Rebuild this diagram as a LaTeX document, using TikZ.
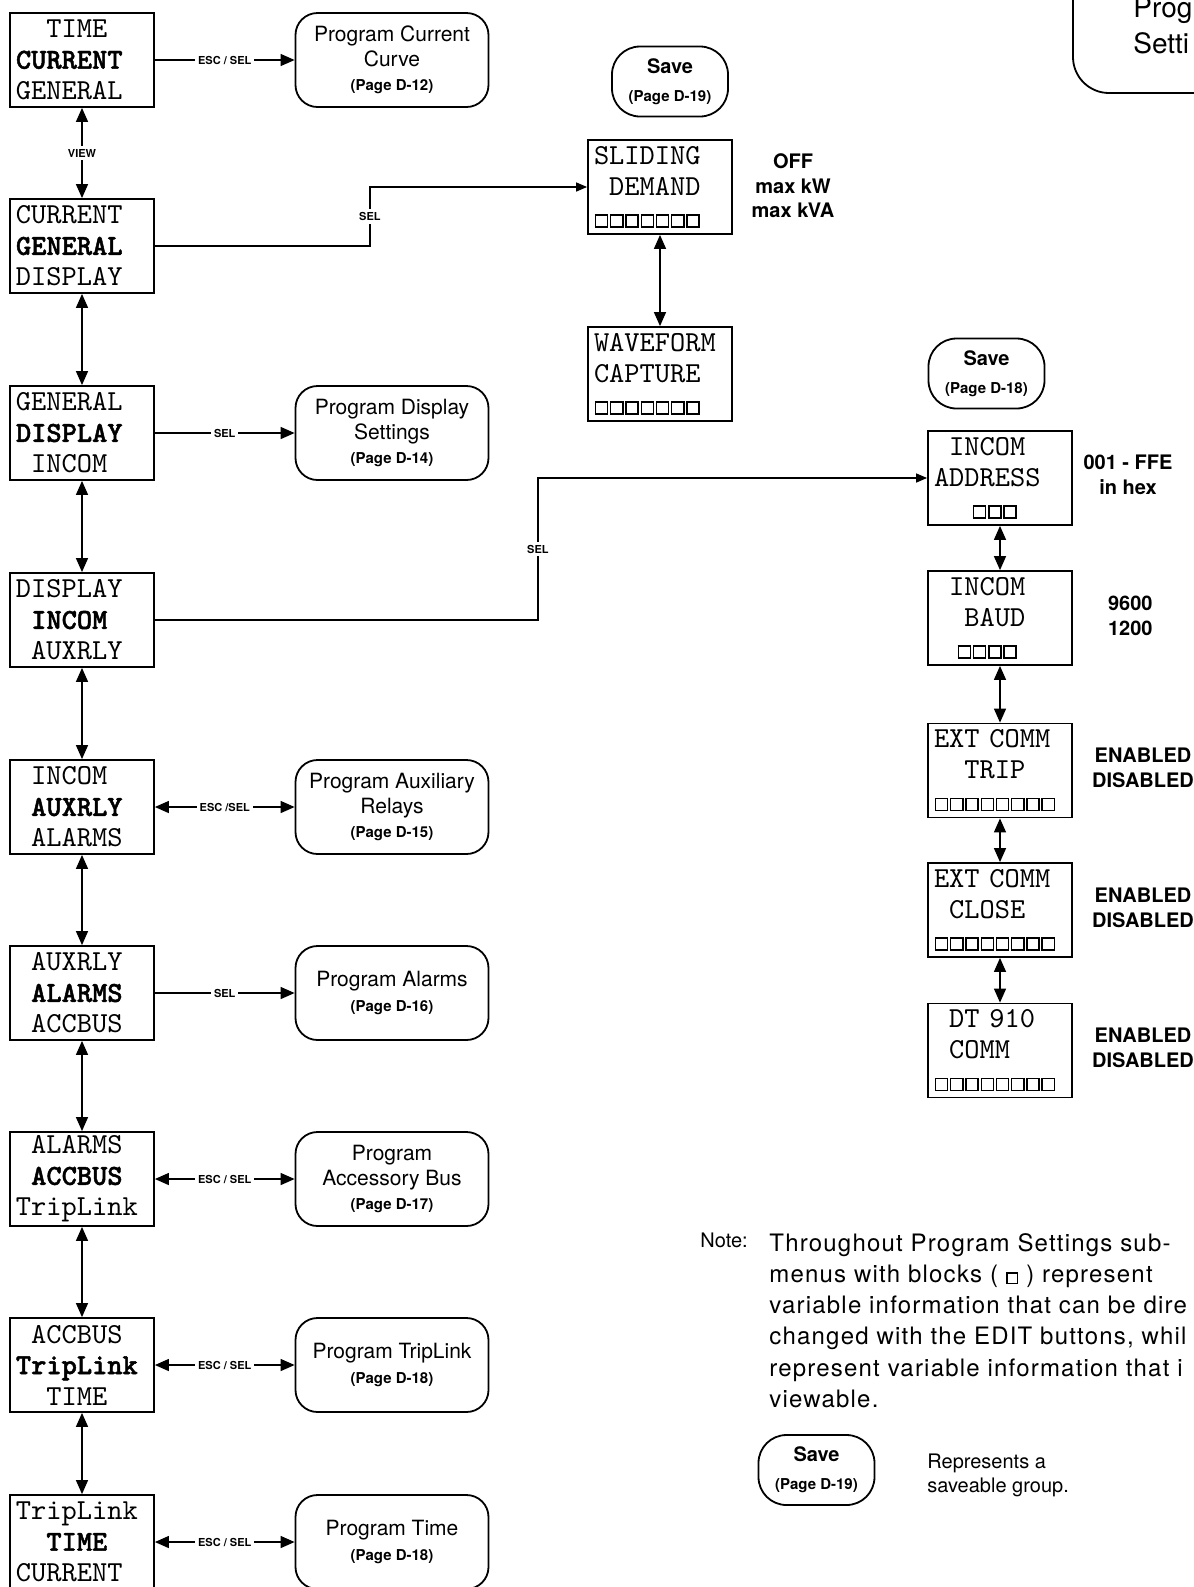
\documentclass[tikz,border=0pt]{standalone}
\usepackage{fontspec}
\setmainfont{TeX Gyre Heros}
\newfontfamily\lcdfont{lmmono10-regular.otf}
\newfontfamily\lcdbold[FakeBold=1.6]{lmmonolt10-bold.otf}
\newfontfamily\notefont[LetterSpace=5]{TeX Gyre Heros}
\usetikzlibrary{positioning, arrows.meta}

\newcommand{\padch}[1]{\hspace*{\dimexpr #1em*525/1000\relax}}
\newcommand{\hi}[1]{{\lcdbold #1}}
\newcommand{\dispcell}{\makebox[0.525em]{\setlength{\fboxsep}{0pt}\setlength{\fboxrule}{0.7pt}\fbox{\rule{0pt}{0.37em}\hspace{0.37em}}}}
\newcommand{\cells}[1]{\foreach \cellno in {1,...,#1}{\dispcell}}
\newcommand{\pg}[1]{{\bfseries\fontsize{7.5}{9}\selectfont (Page #1)}}

\begin{document}
\begin{tikzpicture}[
        x=0.5pt, y=-0.5pt,
        menu/.style={draw, line width=0.9pt, font=\lcdfont\fontsize{14.5}{15.5}\selectfont, text width=66pt, inner xsep=3pt, inner ysep=0pt, minimum height=47pt, align=left},
        prog/.style={draw, line width=0.9pt, rounded corners=11pt, minimum width=96.5pt, minimum height=47pt, align=center, font=\fontsize{10.5}{12.3}\selectfont},
        savebox/.style={draw, line width=0.9pt, rounded corners=14pt, minimum width=58pt, minimum height=35pt, align=center, font=\bfseries\fontsize{10}{14}\selectfont},
        lbl/.style={font=\bfseries\fontsize{5.5}{6}\selectfont, fill=white, inner sep=1.5pt},
        opts/.style={font=\bfseries\fontsize{10}{12.3}\selectfont, align=center},
        link/.style={line width=0.7pt, -{Triangle[length=7pt, width=6pt]}},
        both/.style={line width=0.7pt, {Triangle[length=7pt, width=6pt]}-{Triangle[length=7pt, width=6pt]}},
        feed/.style={line width=0.7pt, -{Triangle[length=5.5pt, width=4.5pt]}},
    ]
    \useasboundingbox (0,0) rectangle (1194,1587);
    \clip (0,0) rectangle (1194,1587);

    % ---- Main menu column ----
    \node[menu] (tcg) at (82,60) {\padch{2}TIME\\\hi{CURRENT}\\GENERAL};
    \node[menu] (cgd) at (82,246) {CURRENT\\\hi{GENERAL}\\DISPLAY};
    \node[menu] (gdi) at (82,433) {GENERAL\\\hi{DISPLAY}\\\padch{1}INCOM};
    \node[menu] (dia) at (82,620) {DISPLAY\\\padch{1}\hi{INCOM}\\\padch{1}AUXRLY};
    \node[menu] (iaa) at (82,807) {\padch{1}INCOM\\\padch{1}\hi{AUXRLY}\\\padch{1}ALARMS};
    \node[menu] (aaa) at (82,993) {\padch{1}AUXRLY\\\padch{1}\hi{ALARMS}\\\padch{1}ACCBUS};
    \node[menu] (aat) at (82,1179) {\padch{1}ALARMS\\\padch{1}\hi{ACCBUS}\\TripLink};
    \node[menu] (att) at (82,1365) {\padch{1}ACCBUS\\\hi{TripLink}\\\padch{2}TIME};
    \node[menu] (ttc) at (82,1542) {TripLink\\\padch{2}\hi{TIME}\\CURRENT};

    % ---- Program sub-menus ----
    \node[prog] (pcc) at (392,60) {Program Current\\Curve\\\pg{D-12}};
    \node[prog] (pds) at (392,433) {Program Display\\Settings\\\pg{D-14}};
    \node[prog] (par) at (392,807) {Program Auxiliary\\Relays\\\pg{D-15}};
    \node[prog] (pal) at (392,993) {Program Alarms\\\pg{D-16}};
    \node[prog] (pab) at (392,1179) {Program\\Accessory Bus\\\pg{D-17}};
    \node[prog] (ptl) at (392,1365) {Program TripLink\\\pg{D-18}};
    \node[prog] (ptm) at (392,1542) {Program Time\\\pg{D-18}};

    % ---- General display group ----
    \node[savebox] (save19) at (670,81.5) {Save\\\pg{D-19}};
    \node[menu] (slide) at (660,187) {SLIDING\\\padch{1}DEMAND\\\cells{7}};
    \node[menu] (wave) at (660,374) {WAVEFORM\\CAPTURE\\\cells{7}};
    \node[opts] (slideopt) at (793,186) {OFF\\max kW\\max kVA};

    % ---- INCOM group ----
    \node[savebox] (save18) at (986.5,373.5) {Save\\\pg{D-18}};
    \node[menu] (addr) at (1000,478) {\padch{1}INCOM\\ADDRESS\\\padch{2.5}\cells{3}};
    \node[menu] (baud) at (1000,618) {\padch{1}INCOM\\\padch{2}BAUD\\\padch{1.5}\cells{4}};
    \node[menu] (trip) at (1000,770.5) {EXT COMM\\\padch{2}TRIP\\\cells{8}};
    \node[menu] (close) at (1000,910) {EXT COMM\\\padch{1}CLOSE\\\cells{8}};
    \node[menu] (dtcomm) at (1000,1050.5) {\padch{1}DT 910\\\padch{1}COMM\\\cells{8}};
    \node[opts] (addropt) at (1128,475) {001 - FFE\\in hex};
    \node[opts, align=left, anchor=west] (baudopt) at (1101,616) {9600\\1200};
    \node[opts] (tripopt) at (1143,768) {ENABLED\\DISABLED};
    \node[opts] (closeopt) at (1143,908) {ENABLED\\DISABLED};
    \node[opts] (dtopt) at (1143,1048) {ENABLED\\DISABLED};

    % ---- Program Settings title (cut off) ----
    \draw[line width=0.9pt, rounded corners=18pt] (1073,-30) -- (1073,93) -- (1230,93);
    \node[anchor=north west, inner sep=0pt, align=left, font=\fontsize{14}{18}\selectfont] (progset) at (1133,-3) {Prog\\Setti};

    % ---- Menu column links ----
    \draw[both] (tcg.south) -- (cgd.north) node[midway, lbl] {VIEW};
    \foreach \a/\b in {cgd/gdi, gdi/dia, dia/iaa, iaa/aaa, aaa/aat, aat/att, att/ttc}
        \draw[both] (\a.south) -- (\b.north);

    \draw[link] (tcg.east) -- (pcc.west) node[midway, lbl] {ESC / SEL};
    \draw[link] (gdi.east) -- (pds.west) node[midway, lbl] {SEL};
    \draw[both] (iaa.east) -- (par.west) node[midway, lbl] {ESC /SEL};
    \draw[link] (aaa.east) -- (pal.west) node[midway, lbl] {SEL};
    \draw[both] (aat.east) -- (pab.west) node[midway, lbl] {ESC / SEL};
    \draw[both] (att.east) -- (ptl.west) node[midway, lbl] {ESC / SEL};
    \draw[both] (ttc.east) -- (ptm.west) node[midway, lbl] {ESC / SEL};

    \draw[feed] (cgd.east) -- ++(215,0) |- (slide.west) node[pos=0.25, lbl] {SEL};
    \draw[feed] (dia.east) -- ++(383,0) |- (addr.west) node[pos=0.25, lbl] {SEL};

    % ---- Sub-menu links ----
    \draw[both] (slide.south) -- (wave.north);
    \foreach \a/\b in {addr/baud, baud/trip, trip/close, close/dtcomm}
        \draw[both] (\a.south) -- (\b.north);

    % ---- Note ----
    \node[anchor=north west, inner sep=0pt, font=\fontsize{10}{12}\selectfont] (notehd) at (700,1233) {Note:};
    \node[anchor=north west, inner sep=0pt, align=left, font=\notefont\fontsize{12}{15.6}\selectfont] (notebody) at (769,1233) {Throughout Program Settings sub-\\menus with blocks ( \dispcell\ ) represent\\variable information that can be dire\\changed with the EDIT buttons, whil\\represent variable information that i\\viewable.};
    \node[savebox] (savekey) at (816.5,1470) {Save\\\pg{D-19}};
    \node[anchor=west, inner sep=0pt, align=left, font=\fontsize{10}{12}\selectfont] (savetxt) at (927,1475) {Represents a\\saveable group.};
\end{tikzpicture}
\end{document}
